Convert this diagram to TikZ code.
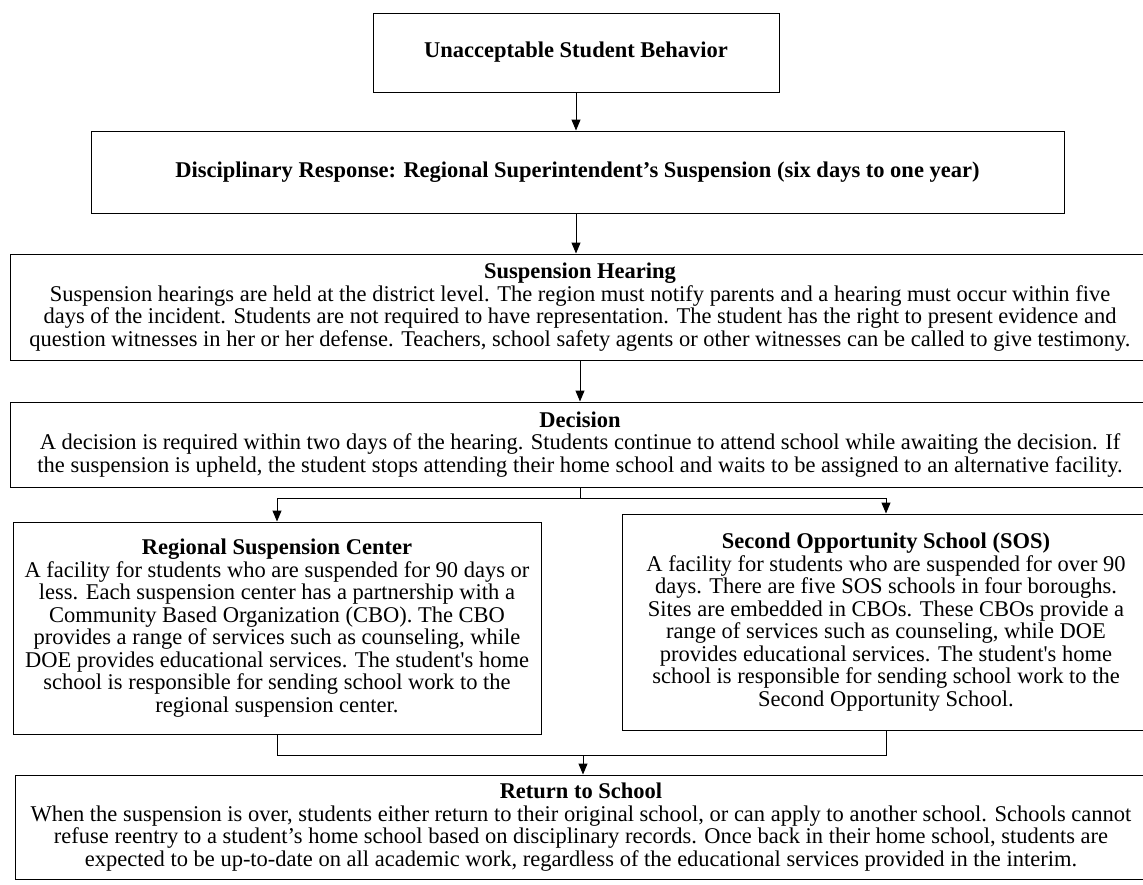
\documentclass[tikz,border=0pt]{standalone}
\usepackage{fontspec}
\setmainfont{Liberation Serif}
\usetikzlibrary{arrows.meta}
\tikzset{
  box/.style={draw, line width=1pt, align=center, inner sep=0pt,
    font=\fontsize{22.5}{22.5}\selectfont},
  arr/.style={line width=1pt, -{Triangle[width=9pt,length=11pt]}},
  link/.style={line width=1pt},
}
\begin{document}
\begin{tikzpicture}[x=1pt,y=-1pt]
  \useasboundingbox (0,0) rectangle (1143,884);
  % 设置框的宽度
  \def\fullWidth{1140}
  \def\halfWidth{528}

  % 第一个框
  \node[box, minimum width=406pt, minimum height=79pt] (behav) at (576,52.5)
    {\textbf{Unacceptable Student Behavior}};

  % 第二个框
  \node[box, minimum width=973pt, minimum height=82pt] (resp) at (577.5,172)
    {\textbf{Disciplinary Response: Regional Superintendent’s Suspension (six days to one year)}};

  % 听证
  \node[box, minimum width=\fullWidth pt, minimum height=106pt] (hear) at (580,307)
    {\textbf{Suspension Hearing}\\
     Suspension hearings are held at the district level.  The region must notify parents and a hearing must occur within five\\
     days of the incident.  Students are not required to have representation. The student has the right to present evidence and\\
     question witnesses in her or her defense.  Teachers, school safety agents or other witnesses can be called to give testimony.};

  % 决定
  \node[box, minimum width=\fullWidth pt, minimum height=85pt] (decis) at (580,444.5)
    {\textbf{Decision}\\
     A decision is required within two days of the hearing.  Students continue to attend school while awaiting the decision.  If\\
     the suspension is upheld, the student stops attending their home school and waits to be assigned to an alternative facility.};

  % 左右两个框
  \node[box, minimum width=\halfWidth pt, minimum height=212pt] (rsc) at (277,628)
    {\textbf{Regional Suspension Center}\\
     A facility for students who are suspended for 90 days or\\
     less.  Each suspension center has a partnership with a\\
     Community Based Organization (CBO). The CBO\\
     provides a range of services such as counseling, while\\
     DOE provides educational services. The student\textquotesingle s home\\
     school is responsible for sending school work to the\\
     regional suspension center.};
  \node[box, minimum width=\halfWidth pt, minimum height=216pt] (sos) at (886,622)
    {\textbf{Second Opportunity School (SOS)}\\
     A facility for students who are suspended for over 90\\
     days. There are five SOS schools in four boroughs.\\
     Sites are embedded in CBOs. These CBOs provide a\\
     range of services such as counseling, while DOE\\
     provides educational services. The student\textquotesingle s home\\
     school is responsible for sending school work to the\\
     Second Opportunity School.};

  % 最后一个框
  \node[box, minimum width=1132pt, minimum height=104pt] (ret) at (581,827)
    {\textbf{Return to School}\\
     When the suspension is over, students either return to their original school, or can apply to another school.  Schools cannot\\
     refuse reentry to a student’s home school based on disciplinary records. Once back in their home school, students are\\
     expected to be up-to-date on all academic work, regardless of the educational services provided in the interim.};

  % 连线
  \coordinate (fork) at (580,498);
  \coordinate (join) at (583,755);
  \draw[arr] (behav.south) -- (behav.south |- resp.north);
  \draw[arr] (resp.south -| behav.south) -- (hear.north -| behav.south);
  \draw[arr] (hear.south -| fork) -- (decis.north -| fork);
  \draw[link] (decis.south -| fork) -- (fork);
  \draw[arr] (fork) -| (rsc.north);
  \draw[arr] (fork) -| (sos.north);
  \draw[link] (rsc.south) |- (join);
  \draw[link] (sos.south) |- (join);
  \draw[arr] (join) -- (join |- ret.north);
\end{tikzpicture}
\end{document}
